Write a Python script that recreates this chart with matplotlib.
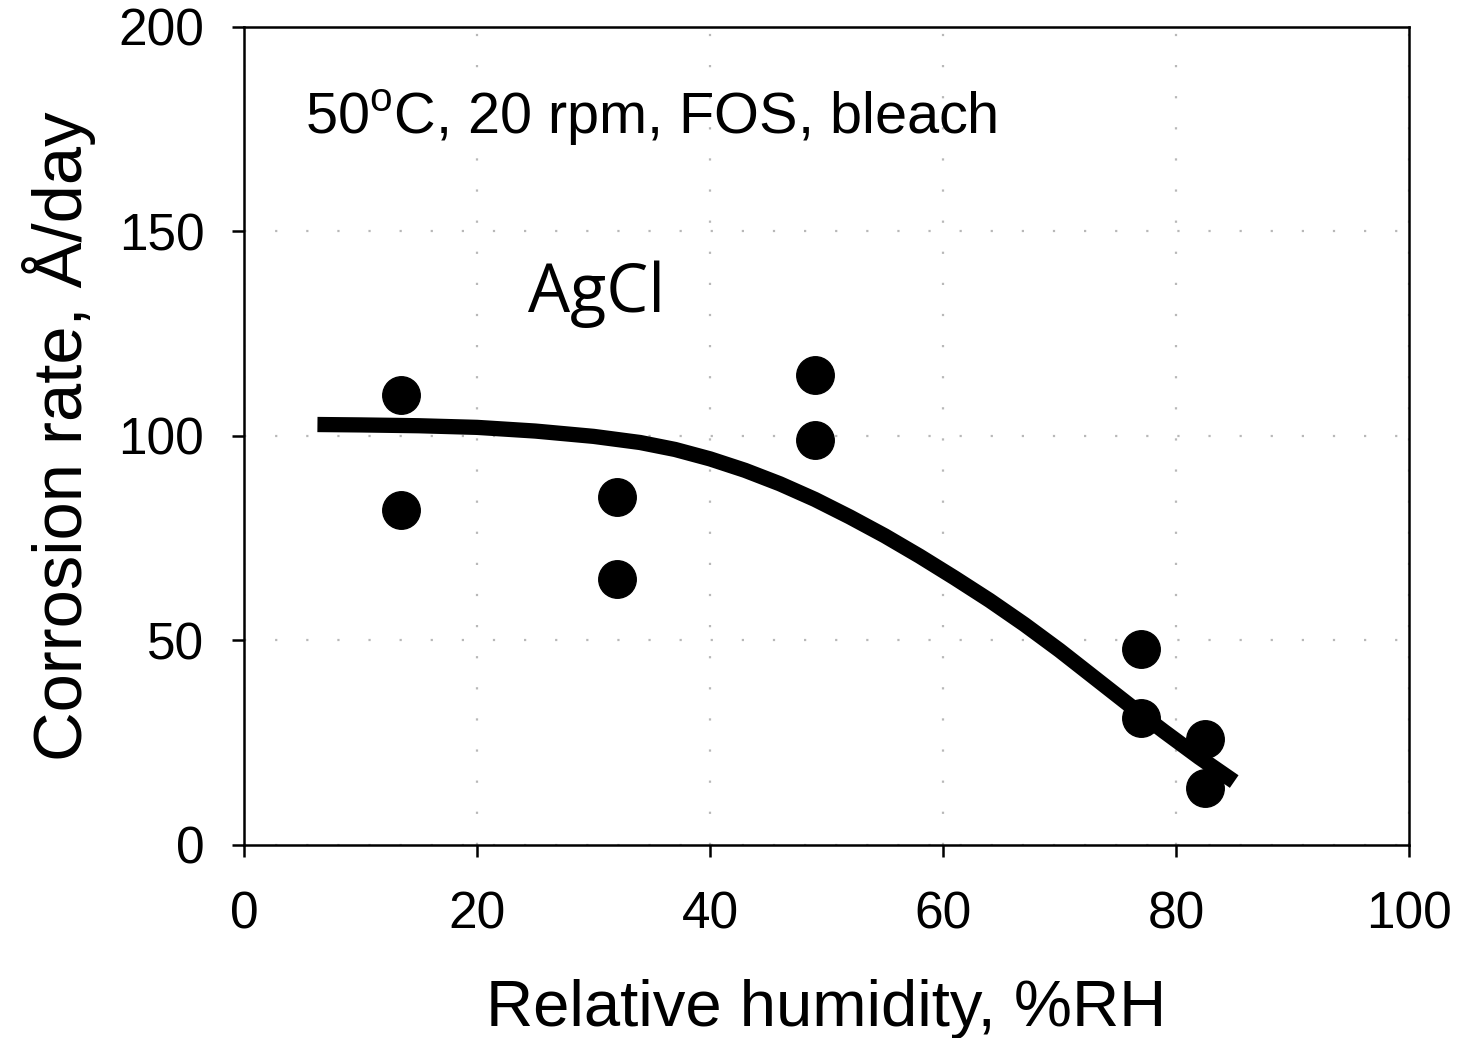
import numpy as np
import matplotlib.pyplot as plt

plt.rcParams['font.family'] = ['Liberation Sans', 'DejaVu Sans']
plt.rcParams['mathtext.fontset'] = 'custom'
plt.rcParams['mathtext.rm'] = 'Liberation Sans'

#Measured points
rh = [13.5, 13.5, 32, 32, 49, 49, 77, 77, 82.5, 82.5]
rate = [110, 82, 85, 65, 115, 99, 48, 31, 26, 14]

#Fitted curve
fit_rh = [6.3, 10, 15, 20, 25, 30, 34, 37, 40, 43, 46, 49, 52, 55, 58,
          61, 64, 67, 70, 73, 76, 79, 82, 85]
fit_rate = [102.8, 102.7, 102.5, 102.1, 101.2, 99.9, 98.4, 96.7, 94.4, 91.6,
            88.3, 84.5, 80.2, 75.6, 70.6, 65.3, 59.8, 53.9, 47.6, 40.9,
            34.2, 27.7, 21.4, 15.5]

xticks = [0, 20, 40, 60, 80, 100]
yticks = [0, 50, 100, 150, 200]

fig = plt.figure(figsize=(14.57, 10.38), dpi=100)
ax = fig.add_axes([0.1675, 0.186, 0.7995, 0.788])

ax.plot(fit_rh, fit_rate, color='black', lw=11, solid_capstyle='butt',
        solid_joinstyle='round', zorder=3)
ax.plot(rh, rate, 'o', color='black', ms=27, zorder=4)

ax.set_xlim(0, 100)
ax.set_ylim(0, 200)
ax.set_xticks(xticks)
ax.set_yticks(yticks)
ax.grid(True, color='#b8b8b8', lw=1.6, linestyle=(0, (1, 13)))
ax.set_axisbelow(True)

for s in ax.spines.values():
    s.set_linewidth(1.8)
ax.tick_params(direction='out', length=8.6, width=1.8, labelsize=37)
ax.tick_params(axis='x', pad=24)
ax.tick_params(axis='y', pad=20)

ax.set_xlabel('Relative humidity, %RH', fontsize=47, labelpad=29)
ax.set_ylabel('Corrosion rate, Å/day', fontsize=49.5, labelpad=16)

ax.text(5.2, 174, r'50$^\mathrm{o}$C, 20 rpm, FOS, bleach', fontsize=41.5)
ax.text(24.4, 130.3, 'AgCl', fontsize=48, family=['Open Sans', 'DejaVu Sans'])

plt.savefig('out.png', dpi=100)
